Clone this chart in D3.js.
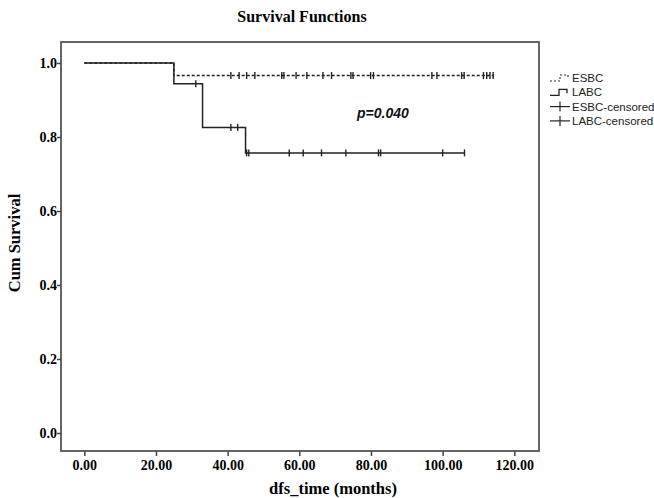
<!DOCTYPE html>
<html>
    <head>
        <title>Survival Functions</title>
        <script src="https://d3js.org/d3.v7.min.js"></script>
        <style>
            body { margin: 0; background: #fff; }
            .serif { font-family: 'Liberation Serif', 'Times New Roman', serif; font-weight: bold; fill: #000; }
            .legend text { font-family: 'Liberation Sans', Arial, sans-serif; font-size: 11.5px; fill: #222; }
        </style>
    </head>
    <body>
        <div id="chart"></div>
        <script>
            // Kaplan-Meier steps: [time, survival]
            const esbcSteps = [[0, 1.0], [25.0, 0.966]];
            const esbcEnd = 114.1;
            const esbcCensored = [40.9, 43.2, 45.3, 47.6, 55.1, 55.7, 59.1, 62.1, 66.6, 69.0, 74.4, 75.0, 79.9, 80.7, 97.0, 98.4, 105.3, 106.0, 111.4, 112.3, 113.2, 114.1];
            const labcSteps = [[0, 1.0], [25.0, 0.944], [33.0, 0.826], [45.0, 0.757]];
            const labcEnd = 106.1;
            const labcCensored = [31.1, 40.9, 42.8, 45.3, 45.9, 57.2, 61.1, 66.2, 73.0, 82.1, 82.7, 100.0, 106.1];
            const xTicks = [0, 20, 40, 60, 80, 100, 120];
            const yTicks = [0, 0.2, 0.4, 0.6, 0.8, 1.0];
            const legendLabels = ['ESBC', 'LABC', 'ESBC-censored', 'LABC-censored'];

            const svgWidth = 654, svgHeight = 498;
            const frame = { left: 61, right: 539, top: 42, bottom: 451 };

            const svg = d3.select('#chart').append('svg')
                .attr('width', svgWidth)
                .attr('height', svgHeight);

            const x = d3.scaleLinear().domain([0, 120]).range([84.3, 514.3]);
            const y = d3.scaleLinear().domain([0, 1]).range([433, 63]);

            // title
            svg.append('text').attr('class', 'serif')
                .attr('x', 302).attr('y', 22)
                .attr('text-anchor', 'middle')
                .style('font-size', '16px')
                .text('Survival Functions');

            // plot frame
            svg.append('rect')
                .attr('x', frame.left).attr('y', frame.top)
                .attr('width', frame.right - frame.left)
                .attr('height', frame.bottom - frame.top)
                .attr('fill', 'none')
                .attr('stroke', '#555')
                .attr('stroke-width', 1.8);

            // axes
            const xAxis = svg.append('g')
                .attr('transform', `translate(0,${frame.bottom})`)
                .call(d3.axisBottom(x).tickValues(xTicks).tickSize(5).tickSizeOuter(0).tickFormat(d3.format('.2f')));
            const yAxis = svg.append('g')
                .attr('transform', `translate(${frame.left},0)`)
                .call(d3.axisLeft(y).tickValues(yTicks).tickSize(4).tickSizeOuter(0).tickFormat(d3.format('.1f')));
            [xAxis, yAxis].forEach((g) => {
                g.select('.domain').remove();
                g.selectAll('.tick line').attr('stroke', '#444').attr('stroke-width', 1.5);
                g.selectAll('.tick text').attr('class', 'serif').style('font-size', '14px').attr('fill', '#000');
            });
            xAxis.selectAll('.tick text').attr('dy', '0.95em').attr('y', 6);
            yAxis.selectAll('.tick text').attr('x', -4);

            // axis titles
            svg.append('text').attr('class', 'serif')
                .attr('x', 333).attr('y', 494)
                .attr('text-anchor', 'middle')
                .style('font-size', '16.5px')
                .text('dfs_time (months)');
            svg.append('text').attr('class', 'serif')
                .attr('transform', 'translate(20,243) rotate(-90)')
                .attr('text-anchor', 'middle')
                .style('font-size', '16.5px')
                .text('Cum Survival');

            const stepLine = d3.line()
                .x((d) => x(d[0]))
                .y((d) => y(d[1]))
                .curve(d3.curveStepAfter);

            function survAt(steps, t) {
                let s = steps[0][1];
                steps.forEach((d) => { if (d[0] <= t) s = d[1]; });
                return s;
            }

            const curves = [
                { steps: esbcSteps, end: esbcEnd, censored: esbcCensored, dash: '3,2' },
                { steps: labcSteps, end: labcEnd, censored: labcCensored, dash: null }
            ];

            curves.forEach((c) => {
                const pts = c.steps.concat([[c.end, c.steps[c.steps.length - 1][1]]]);
                svg.append('path')
                    .datum(pts)
                    .attr('d', stepLine)
                    .attr('fill', 'none')
                    .attr('stroke', '#222')
                    .attr('stroke-width', 1.5)
                    .attr('stroke-dasharray', c.dash);
                svg.selectAll(null)
                    .data(c.censored)
                    .enter()
                    .append('line')
                    .attr('x1', (d) => x(d))
                    .attr('x2', (d) => x(d))
                    .attr('y1', (d) => y(survAt(c.steps, d)) - 3.5)
                    .attr('y2', (d) => y(survAt(c.steps, d)) + 3.5)
                    .attr('stroke', '#222')
                    .attr('stroke-width', 1.4);
            });

            // p-value
            svg.append('text')
                .attr('x', 357).attr('y', 118)
                .style('font-family', "'Liberation Sans', Arial, sans-serif")
                .style('font-weight', 'bold')
                .style('font-style', 'italic')
                .style('font-size', '14px')
                .attr('fill', '#111')
                .text('p=0.040');

            // legend
            const legend = svg.append('g').attr('class', 'legend').attr('transform', 'translate(550,78)');
            legendLabels.forEach((label, i) => {
                const row = legend.append('g').attr('transform', `translate(0,${i * 14.3})`);
                if (i === 0) {
                    row.append('path').attr('d', 'M0,3 H10 V-3 H18 V1')
                        .attr('fill', 'none').attr('stroke', '#333').attr('stroke-width', 1.1)
                        .attr('stroke-dasharray', '2,2');
                } else if (i === 1) {
                    row.append('path').attr('d', 'M0,3 H9 V-3 H17 V1')
                        .attr('fill', 'none').attr('stroke', '#222').attr('stroke-width', 1.3);
                } else {
                    row.append('line').attr('x1', 0).attr('x2', 20).attr('y1', 0).attr('y2', 0)
                        .attr('stroke', '#222').attr('stroke-width', 1.2);
                    row.append('line').attr('x1', 10).attr('x2', 10).attr('y1', -5).attr('y2', 5)
                        .attr('stroke', '#222').attr('stroke-width', 1.2);
                }
                row.append('text').attr('x', 22).attr('dy', '0.35em').text(label);
            });
        </script>
    </body>
</html>
